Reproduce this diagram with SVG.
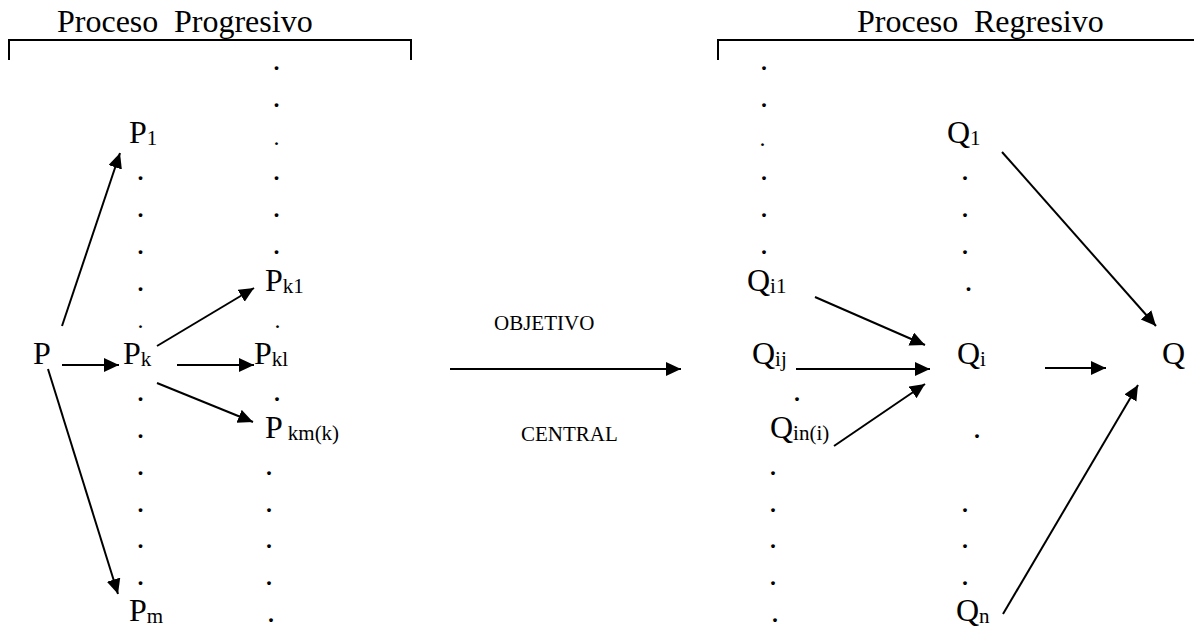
<svg xmlns="http://www.w3.org/2000/svg" width="1194" height="627" viewBox="0 0 1194 627">
<style>
  text { font-family: "Liberation Serif", "Times New Roman", serif; fill: #000; }
  .n { font-size: 32px; }
  .s { font-size: 21px; }
  .lbl { font-size: 21px; }
  .d { font-size: 32px; }
  .ds { font-size: 24px; }
  .c { stroke: #000; stroke-width: 2; fill: none; marker-end: url(#ah); }
  .br { stroke: #000; stroke-width: 2; fill: none; }
</style>
<defs>
  <marker id="ah" markerUnits="userSpaceOnUse" markerWidth="16" markerHeight="15" refX="15" refY="7" orient="auto">
    <path d="M0,0 L15,7 L0,14 z" fill="#000"/>
  </marker>
</defs>
<rect width="1194" height="627" fill="#fff"/>

<g id="title-progresivo">
  <text class="n" x="57" y="32">Proceso</text>
  <text class="n" x="174" y="32">Progresivo</text>
  <path class="br" d="M9,60 V40 H411 V60"/>
</g>
<g id="title-regresivo">
  <text class="n" x="857" y="32">Proceso</text>
  <text class="n" x="974" y="32">Regresivo</text>
  <path class="br" d="M718,60 V40 H1196"/>
</g>

<g id="node-P"><text class="n" x="33" y="364">P</text></g>
<g id="node-P1"><text class="n" x="129" y="143">P<tspan class="s" dy="2">1</tspan></text></g>
<g id="node-Pk"><text class="n" x="123" y="364">P<tspan class="s" dy="2">k</tspan></text></g>
<g id="node-Pm"><text class="n" x="129" y="621">P<tspan class="s" dy="2">m</tspan></text></g>
<g id="node-Pk1"><text class="n" x="265" y="291">P<tspan class="s" dy="2">k1</tspan></text></g>
<g id="node-Pkl"><text class="n" x="254" y="364">P<tspan class="s" dy="2">kl</tspan></text></g>
<g id="node-Pkmk"><text class="n" x="265" y="438">P<tspan class="s" dx="5" dy="2">km(k)</tspan></text></g>

<g id="node-central">
  <text class="lbl" x="494" y="330">OBJETIVO</text>
  <text class="lbl" x="521" y="441">CENTRAL</text>
</g>

<g id="node-Qi1"><text class="n" x="747" y="291">Q<tspan class="s" dy="2">i1</tspan></text></g>
<g id="node-Qij"><text class="n" x="752" y="364">Q<tspan class="s" dy="2">ij</tspan></text></g>
<g id="node-Qini"><text class="n" x="770" y="438">Q<tspan class="s" dy="2">in(i)</tspan></text></g>
<g id="node-Q1"><text class="n" x="947" y="143">Q<tspan class="s" dy="2">1</tspan></text></g>
<g id="node-Qi"><text class="n" x="957" y="364">Q<tspan class="s" dy="2">i</tspan></text></g>
<g id="node-Qn"><text class="n" x="956" y="621">Q<tspan class="s" dy="2">n</tspan></text></g>
<g id="node-Q"><text class="n" x="1162" y="364">Q</text></g>

<g id="dots">
  <!-- column 2 -->
  <text class="d" x="136.5" y="180.4">.</text>
  <text class="d" x="136.5" y="217.2">.</text>
  <text class="d" x="136.5" y="254">.</text>
  <text class="d" x="136.5" y="290.8">.</text>
  <text class="ds" x="137.5" y="328">.</text>
  <text class="d" x="136.5" y="401.2">.</text>
  <text class="d" x="136.5" y="438">.</text>
  <text class="d" x="136.5" y="474.8">.</text>
  <text class="d" x="136.5" y="511.6">.</text>
  <text class="d" x="136.5" y="548.4">.</text>
  <text class="d" x="136.5" y="585.2">.</text>
  <!-- column 3 -->
  <text class="d" x="272.5" y="70">.</text>
  <text class="d" x="272.5" y="106.8">.</text>
  <text class="ds" x="273.5" y="145">.</text>
  <text class="d" x="272.5" y="180.4">.</text>
  <text class="d" x="272.5" y="217.2">.</text>
  <text class="d" x="272.5" y="254">.</text>
  <text class="ds" x="274.5" y="328">.</text>
  <text class="d" x="273" y="401.2">.</text>
  <text class="d" x="265" y="474.8">.</text>
  <text class="d" x="265" y="511.6">.</text>
  <text class="d" x="265" y="548.4">.</text>
  <text class="d" x="265" y="585.2">.</text>
  <text class="d" x="267" y="622">.</text>
  <!-- right column A -->
  <text class="d" x="760" y="70">.</text>
  <text class="d" x="760" y="106.8">.</text>
  <text class="ds" x="759.5" y="146">.</text>
  <text class="d" x="760" y="180.4">.</text>
  <text class="d" x="760" y="217.2">.</text>
  <text class="d" x="760" y="254">.</text>
  <text class="d" x="793" y="401.2">.</text>
  <text class="d" x="769" y="474.8">.</text>
  <text class="d" x="769" y="511.6">.</text>
  <text class="d" x="769" y="548.4">.</text>
  <text class="d" x="769" y="585.2">.</text>
  <text class="d" x="771" y="622">.</text>
  <!-- right column B -->
  <text class="d" x="961" y="180.4">.</text>
  <text class="d" x="961" y="217.2">.</text>
  <text class="d" x="961" y="254">.</text>
  <text class="d" x="964.5" y="290.8">.</text>
  <text class="d" x="973" y="438">.</text>
  <text class="d" x="961" y="511.6">.</text>
  <text class="d" x="961" y="548.4">.</text>
  <text class="d" x="961" y="585.2">.</text>
</g>

<g id="connectors">
  <line class="c" x1="62" y1="326" x2="120" y2="153"/>
  <line class="c" x1="62" y1="365" x2="119" y2="365"/>
  <line class="c" x1="48" y1="369" x2="118" y2="594"/>
  <line class="c" x1="157" y1="346" x2="254" y2="288"/>
  <line class="c" x1="177" y1="365" x2="254" y2="365"/>
  <line class="c" x1="157" y1="383" x2="253" y2="422"/>
  <line class="c" x1="450" y1="369" x2="681" y2="369"/>
  <line class="c" x1="815" y1="297" x2="925" y2="345"/>
  <line class="c" x1="796" y1="369" x2="930" y2="369"/>
  <line class="c" x1="834" y1="446" x2="925" y2="384"/>
  <line class="c" x1="1045" y1="368" x2="1106" y2="368"/>
  <line class="c" x1="1002" y1="152" x2="1156" y2="326"/>
  <line class="c" x1="1003" y1="614" x2="1138" y2="385"/>
</g>
</svg>
